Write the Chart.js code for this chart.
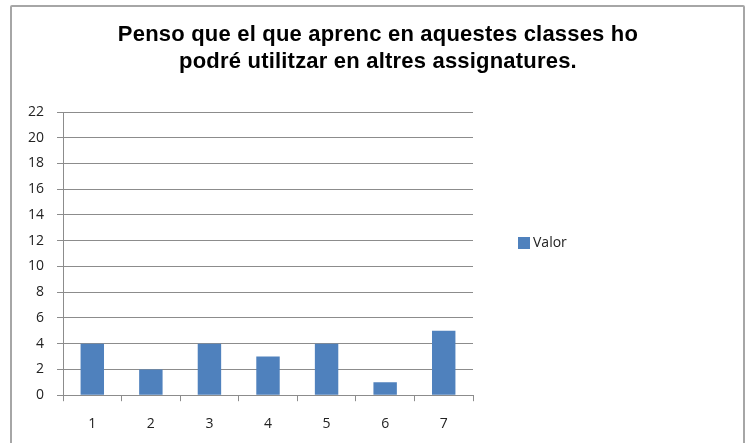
<!DOCTYPE html>
<html>
<head>
<meta charset="utf-8">
<script src="https://cdn.jsdelivr.net/npm/chart.js@4/dist/chart.umd.min.js"></script>
<style>
  body { margin: 0; background: #fff; }
  #wrap { position: relative; width: 749px; height: 443px; }
  #frame { position: absolute; left: 10px; top: 5px; width: 735px; height: 460px;
           border: 2px solid #a6a6a6; border-radius: 2px; box-sizing: border-box; }
  canvas { position: absolute; left: 0; top: 0; }
</style>
</head>
<body>
<div id="wrap">
  <canvas id="chart" width="749" height="443"></canvas>
  <div id="frame"></div>
</div>
<script>
var titleLines = ['Penso que el que aprenc en aquestes classes ho', 'podré utilitzar en altres assignatures.'];
var categories = ['1', '2', '3', '4', '5', '6', '7'];
var valors = [4, 2, 4, 3, 4, 1, 5];
var seriesName = 'Valor';

var barColor = '#4f81bd';
var gridColor = '#8c8c8c';

// title and legend drawn by hand so the plot area keeps its place
var sideBits = {
  id: 'sideBits',
  afterDraw: function(chart) {
    var ctx = chart.ctx;
    var ds = chart.data.datasets[0];
    ctx.save();
    ctx.fillStyle = '#000';
    ctx.font = 'bold 22px "Liberation Sans", Arial, sans-serif';
    ctx.letterSpacing = '0.2px';
    ctx.textAlign = 'center';
    ctx.textBaseline = 'middle';
    ctx.fillText(titleLines[0], 378, 35);
    ctx.fillText(titleLines[1], 378, 62);
    ctx.letterSpacing = '0px';
    ctx.textAlign = 'left';
    ctx.fillStyle = ds.backgroundColor;
    ctx.fillRect(518, 237, 12, 12);
    ctx.fillStyle = '#222';
    ctx.font = '14px "Open Sans", sans-serif';
    ctx.fillText(ds.label, 533, 243);
    ctx.restore();
  }
};

var config = {
  type: 'bar',
  data: {
    labels: categories,
    datasets: [{
      label: seriesName,
      data: valors,
      backgroundColor: barColor,
      barPercentage: 0.4,
      categoryPercentage: 1.0
    }]
  },
  options: {
    responsive: false,
    animation: false,
    layout: { padding: { left: 15, right: 276, top: 112, bottom: -3 } },
    plugins: {
      legend: { display: false },
      tooltip: { enabled: false },
      title: { display: false }
    },
    scales: {
      x: {
        grid: { offset: true, drawOnChartArea: false, drawTicks: true, tickLength: 6, color: gridColor },
        border: { color: gridColor, width: 1 },
        ticks: { color: '#222', padding: 14, font: { family: '"Open Sans", sans-serif', size: 14 } }
      },
      y: {
        min: 0,
        max: 22,
        ticks: { stepSize: 2, color: '#222', padding: 13, font: { family: '"Open Sans", sans-serif', size: 14 } },
        grid: { color: gridColor, tickLength: 6, drawTicks: true },
        border: { color: gridColor, width: 1 }
      }
    }
  },
  plugins: [sideBits]
};

new Chart(document.getElementById('chart'), config);
</script>
</body>
</html>
